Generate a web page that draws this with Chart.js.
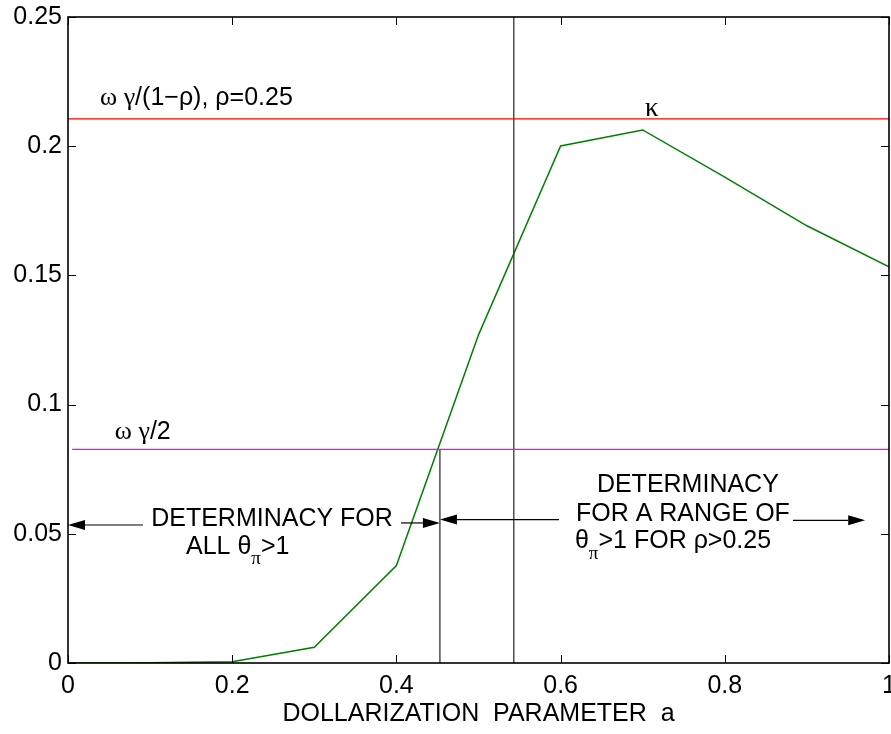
<!DOCTYPE html>
<html>
<head>
<meta charset="utf-8">
<script src="https://cdn.jsdelivr.net/npm/chart.js@4.4.0/dist/chart.umd.min.js"></script>
<style>
  html, body { margin: 0; padding: 0; background: #fff; }
</style>
</head>
<body>
<canvas id="chart" width="891" height="734"></canvas>
<script>
// dollarization parameter a, and the kappa curve
const aValues = [0, 0.1, 0.2, 0.3, 0.4, 0.5, 0.6, 0.7, 0.8, 0.9, 1.0];
const kappaValues = [0, 0.0001, 0.0005, 0.0061, 0.0377, 0.127, 0.2001, 0.2063, 0.188, 0.1692, 0.1533];

// horizontal bounds: omega*gamma/(1-rho) with rho=0.25, and omega*gamma/2
const upperBound = 0.2106;
const lowerBound = 0.0827;

// where kappa crosses the two bounds
const aLow = 0.453;
const aHigh = 0.543;

const xTickStep = 0.2;
const yTickStep = 0.05;

const SANS = '"Liberation Sans", Arial, Helvetica, sans-serif';
const SERIF = '"Liberation Serif", "Times New Roman", serif';
const f = (size, fam) => size + "px " + fam;

// annotation arrows (data units): tip is where the head sits
const arrows = [
  { from: [0.0914, 0.0534], to: [0, 0.0534] },
  { from: [0.4056, 0.0542], to: [aLow, 0.0542] },
  { from: [0.598, 0.0555], to: [aLow, 0.0555] },
  { from: [0.883, 0.0552], to: [0.971, 0.0552] },
];

// text labels (data units), built from runs so sub-scripts work
const labels = [
  { at: [0.039, 0.2187], align: "left", runs: [
    { t: "ω γ", font: f(26, SERIF) }, { t: "/(1−ρ), ρ=0.25", font: f(25, SANS) } ] },
  { at: [0.711, 0.2145], align: "center", runs: [ { t: "κ", font: f(27, SERIF) } ] },
  { at: [0.057, 0.0894], align: "left", runs: [
    { t: "ω γ", font: f(26, SERIF) }, { t: "/2", font: f(25, SANS) } ] },
  { at: [0.2485, 0.0555], align: "center", runs: [ { t: "DETERMINACY FOR", font: f(25, SANS) } ] },
  { at: [0.1437, 0.0449], align: "left", runs: [
    { t: "ALL ", font: f(25, SANS) }, { t: "θ", font: f(25, SANS) },
    { t: "π", font: f(19, SERIF), dy: 12 }, { t: ">1", font: f(25, SANS) } ] },
  { at: [0.755, 0.0689], align: "center", runs: [ { t: "DETERMINACY", font: f(25, SANS) } ] },
  { at: [0.749, 0.0577], align: "center", runs: [ { t: "FOR A RANGE OF", font: f(25, SANS) } ] },
  { at: [0.6175, 0.047], align: "left", runs: [
    { t: "θ", font: f(25, SANS) }, { t: "π", font: f(19, SERIF), dy: 12 },
    { t: ">1 FOR ρ>0.25", font: f(25, SANS) } ] },
];

function drawRuns(ctx, x, y, runs, align) {
  let total = 0;
  runs.forEach(r => { ctx.font = r.font; total += ctx.measureText(r.t).width; });
  let cx = align === "center" ? x - total / 2 : x;
  runs.forEach(r => {
    ctx.font = r.font;
    ctx.fillText(r.t, cx, y + (r.dy || 0));
    cx += ctx.measureText(r.t).width;
  });
}

const framePlugin = {
  id: "frame",
  afterDraw(chart) {
    const ctx = chart.ctx;
    const { left, right, top, bottom } = chart.chartArea;
    const xs = chart.scales.x, ys = chart.scales.y;
    ctx.save();

    // box
    ctx.strokeStyle = "#000";
    ctx.lineWidth = 1.6;
    ctx.strokeRect(left, top, right - left, bottom - top);

    // inward ticks on all four sides
    ctx.lineWidth = 1;
    const tl = 8;
    ctx.beginPath();
    xs.ticks.forEach(t => {
      const px = Math.round(xs.getPixelForValue(t.value)) + 0.5;
      ctx.moveTo(px, bottom); ctx.lineTo(px, bottom - tl);
      ctx.moveTo(px, top); ctx.lineTo(px, top + tl);
    });
    ys.ticks.forEach(t => {
      const py = Math.round(ys.getPixelForValue(t.value)) + 0.5;
      ctx.moveTo(left, py); ctx.lineTo(left + tl, py);
      ctx.moveTo(right, py); ctx.lineTo(right - tl, py);
    });
    ctx.stroke();

    // arrows
    ctx.fillStyle = "#000";
    ctx.lineWidth = 1.2;
    arrows.forEach(a => {
      const x1 = xs.getPixelForValue(a.from[0]), y1 = ys.getPixelForValue(a.from[1]);
      const x2 = xs.getPixelForValue(a.to[0]), y2 = ys.getPixelForValue(a.to[1]);
      const dir = Math.sign(x2 - x1);
      const hl = 17, hw = 5;
      ctx.beginPath();
      ctx.moveTo(x1, y1); ctx.lineTo(x2 - dir * hl, y2);
      ctx.stroke();
      ctx.beginPath();
      ctx.moveTo(x2, y2);
      ctx.lineTo(x2 - dir * hl, y2 - hw);
      ctx.lineTo(x2 - dir * hl, y2 + hw);
      ctx.closePath();
      ctx.fill();
    });

    // labels
    ctx.textBaseline = "middle";
    ctx.textAlign = "left";
    labels.forEach(l => {
      drawRuns(ctx, xs.getPixelForValue(l.at[0]), ys.getPixelForValue(l.at[1]), l.runs, l.align);
    });
    ctx.restore();
  }
};

const line = (data, color, width) => ({
  data, borderColor: color, borderWidth: width, showLine: true,
  pointRadius: 0, fill: false, tension: 0
});

const tickText = v => String(+Number(v).toFixed(2));

new Chart(document.getElementById("chart"), {
  type: "scatter",
  plugins: [framePlugin],
  data: {
    datasets: [
      line([{ x: 0, y: upperBound }, { x: 1, y: upperBound }], "#ff0000", 1.2),
      line([{ x: 0.005, y: lowerBound }, { x: 1, y: lowerBound }], "#ff00ff", 1.2),
      line([{ x: aLow, y: 0 }, { x: aLow, y: lowerBound }], "#333", 1.3),
      line([{ x: aHigh, y: 0 }, { x: aHigh, y: 0.25 }], "#333", 1.3),
      line(aValues.map((a, i) => ({ x: a, y: kappaValues[i] })), "#008000", 1.5),
    ],
  },
  options: {
    responsive: false,
    animation: false,
    devicePixelRatio: 1,
    layout: { padding: { left: 0, right: 2, top: 17, bottom: 0 } },
    plugins: { legend: { display: false }, tooltip: { enabled: false } },
    scales: {
      x: {
        type: "linear", min: 0, max: 1,
        grid: { display: false, drawTicks: false, tickLength: 0 },
        border: { display: false },
        ticks: { stepSize: xTickStep, color: "#000", padding: 8, maxRotation: 0,
                 callback: tickText, font: { family: SANS, size: 25 } },
        title: { display: true, text: "DOLLARIZATION  PARAMETER  a", color: "#000",
                 font: { family: SANS, size: 25 }, padding: { top: 0, bottom: 5 } },
        afterFit(s) { s.height = 71; s.paddingLeft = 0; s.paddingRight = 0; },
      },
      y: {
        type: "linear", min: 0, max: 0.25,
        grid: { display: false, drawTicks: false, tickLength: 0 },
        border: { display: false },
        ticks: { stepSize: yTickStep, color: "#000", padding: 6,
                 callback: tickText, font: { family: SANS, size: 25 } },
        afterFit(s) { s.width = 68; s.paddingTop = 0; s.paddingBottom = 0; },
      },
    },
  },
});
</script>
</body>
</html>
